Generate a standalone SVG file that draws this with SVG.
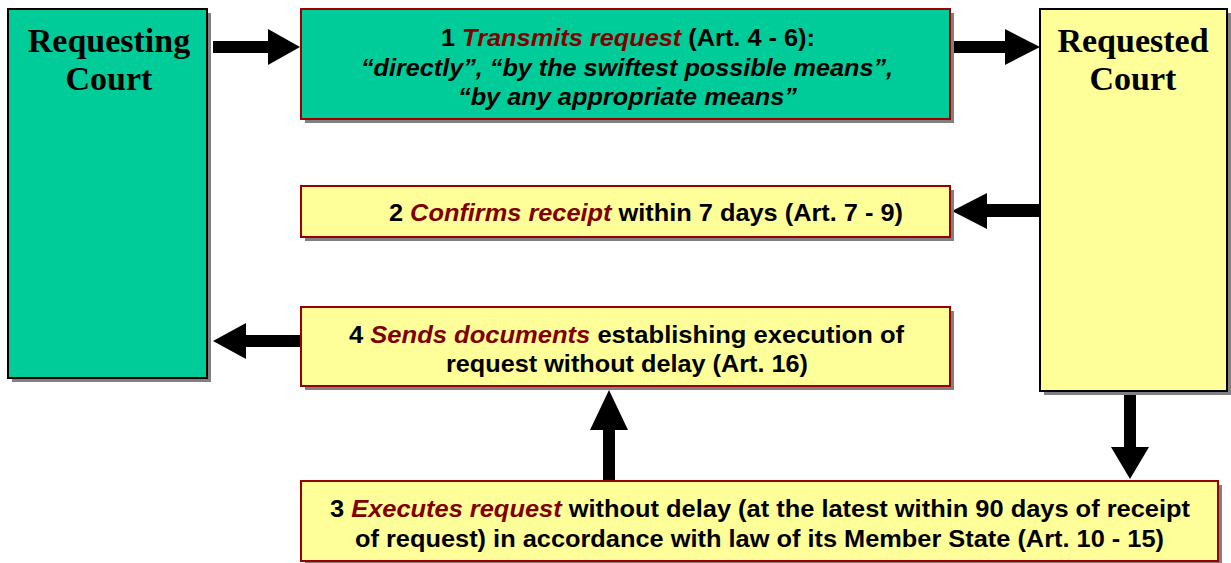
<svg xmlns="http://www.w3.org/2000/svg" width="1231" height="563" viewBox="0 0 1231 563">
<style>
.sh{fill:#808080}
.green{fill:#00CC99}
.yellow{fill:#FFFF99}
.bk{stroke:#000;stroke-width:2}
.rd{stroke:#990000;stroke-width:2}
.court{font-family:"Liberation Serif",serif;font-weight:bold;font-size:34px;fill:#000;text-anchor:middle}
.lbl{font-family:"Liberation Sans",sans-serif;font-weight:bold;font-size:24px;fill:#000;text-anchor:middle}
.it{font-style:italic}
.red{fill:#800000;font-style:italic}
.arrow{fill:#000}
</style>
<rect width="1231" height="563" fill="#fff"/>
<g id="connectors">
<polygon class="arrow" points="213,41 268,41 268,29 300,47 268,65 268,53 213,53"/>
<polygon class="arrow" points="952,41 1005,41 1005,29 1040,47 1005,65 1005,53 952,53"/>
<polygon class="arrow" points="1040,204 987,204 987,193 952,211 987,229 987,217 1040,217"/>
<polygon class="arrow" points="301,335 246,335 246,323 213,341 246,359 246,347 301,347"/>
<polygon class="arrow" points="603,481 603,430 590,430 609,390 628,430 615,430 615,481"/>
<polygon class="arrow" points="1124,391 1124,447 1111,447 1130,479 1149,447 1136,447 1136,391"/>
</g>
<g id="requesting-court">
<rect class="sh" x="12" y="13" width="199" height="369"/>
<rect class="green bk" x="8" y="9" width="199" height="369"/>
<text class="court" x="109" y="52">Requesting</text>
<text class="court" x="109" y="90">Court</text>
</g>
<g id="requested-court">
<rect class="sh" x="1044" y="13" width="187" height="382"/>
<rect class="yellow bk" x="1040" y="9" width="187" height="382"/>
<text class="court" x="1133" y="52">Requested</text>
<text class="court" x="1133" y="90">Court</text>
</g>
<g id="step1">
<rect class="sh" x="305" y="13" width="649" height="110"/>
<rect class="green rd" x="301" y="9" width="649" height="110"/>
<text class="lbl" x="628" y="46" textLength="374" lengthAdjust="spacingAndGlyphs">1 <tspan class="red">Transmits request</tspan> (Art. 4 - 6):</text>
<text class="lbl it" x="627" y="76" textLength="532" lengthAdjust="spacingAndGlyphs">“directly”, “by the swiftest possible means”,</text>
<text class="lbl it" x="627.5" y="105" textLength="339" lengthAdjust="spacingAndGlyphs">“by any appropriate means”</text>
</g>
<g id="step2">
<rect class="sh" x="305" y="190" width="649" height="51"/>
<rect class="yellow rd" x="301" y="186" width="649" height="51"/>
<text class="lbl" x="646" y="221" textLength="514" lengthAdjust="spacingAndGlyphs">2 <tspan class="red">Confirms receipt</tspan> within 7 days (Art. 7 - 9)</text>
</g>
<g id="step4">
<rect class="sh" x="305" y="311" width="649" height="79"/>
<rect class="yellow rd" x="301" y="307" width="649" height="79"/>
<text class="lbl" x="626.5" y="343" textLength="555" lengthAdjust="spacingAndGlyphs">4 <tspan class="red">Sends documents</tspan> establishing execution of</text>
<text class="lbl" x="627" y="372" textLength="362" lengthAdjust="spacingAndGlyphs">request without delay (Art. 16)</text>
</g>
<g id="step3">
<rect class="sh" x="305" y="485" width="917" height="80"/>
<rect class="yellow rd" x="301" y="481" width="917" height="80"/>
<text class="lbl" x="760" y="517" textLength="860" lengthAdjust="spacingAndGlyphs">3 <tspan class="red">Executes request</tspan> without delay (at the latest within 90 days of receipt</text>
<text class="lbl" x="759.5" y="547" textLength="809" lengthAdjust="spacingAndGlyphs">of request) in accordance with law of its Member State (Art. 10 - 15)</text>
</g>
</svg>
